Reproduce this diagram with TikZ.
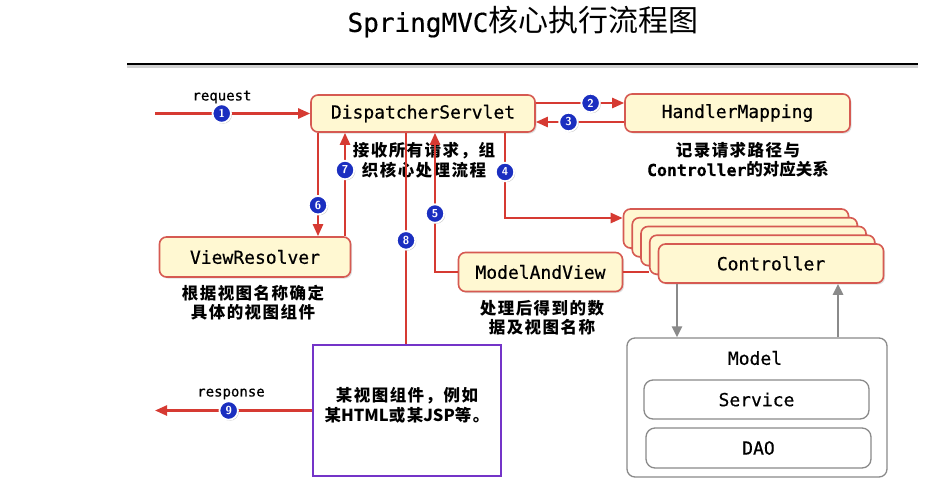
\documentclass[tikz,border=0pt]{standalone}
\usepackage{fontspec}
\newfontfamily\mono{DejaVu Sans Mono}[FakeBold=0.5]
\newfontfamily\monot{DejaVu Sans Mono}
\newfontfamily\cjk{Noto Sans CJK SC}
\newfontfamily\cjks{Noto Sans CJK SC}[LetterSpace=9]
\usetikzlibrary{arrows.meta,shadows,calc}
\definecolor{boxfill}{HTML}{FFF8D2}
\definecolor{boxline}{HTML}{D65A52}
\definecolor{arrred}{HTML}{D63A32}
\definecolor{badgeblue}{HTML}{1B2FC0}
\definecolor{viewpurple}{HTML}{7434C8}
\definecolor{gline}{HTML}{8A8A8A}
\begin{document}
\begin{tikzpicture}[x=1pt,y=-1pt,
  ybox/.style={draw=boxline, line width=1.6pt, fill=boxfill, rounded corners=7pt,
    minimum width=#1, minimum height=39pt, inner sep=0pt,
    font=\mono\fontsize{18}{20}\selectfont,
    drop shadow={shadow xshift=1.5pt, shadow yshift=-1.5pt, opacity=0.25}},
  gbox/.style={draw=gline, line width=1.3pt, rounded corners=9pt, fill=white,
    minimum width=#1, inner sep=0pt, font=\mono\fontsize{18}{20}\selectfont},
  arr/.style={draw=arrred, line width=2.4pt, -{Triangle[length=12pt,width=10pt]}},
  redline/.style={draw=arrred, line width=2.4pt},
  garr/.style={draw=gline, line width=2.6pt, -{Triangle[length=11pt,width=10pt]}},
  badge/.style={circle, fill=badgeblue, draw=white, line width=1.8pt, minimum size=18.5pt,
    inner sep=0pt, text=white, font=\sffamily\bfseries\fontsize{11.5}{11.5}\selectfont,
    drop shadow={shadow xshift=1pt, shadow yshift=-1pt, opacity=0.45}},
  note/.style={align=center, inner sep=0pt, font=\cjks\bfseries\fontsize{16.5}{19.5}\selectfont},
  lbl/.style={inner sep=0pt, font=\mono\fontsize{14}{16}\selectfont}
]
\fill[white] (0,0) rectangle (929,485);
\useasboundingbox (0,0) rectangle (929,485);

% title
\node (title) at (523,22) {\mono\fontsize{26}{30}\selectfont SpringMVC\cjk\fontsize{30}{30}\selectfont 核心执行流程图};
\draw[black!18, line width=3pt] (127,66.5) -- (918,66.5);
\draw[black, line width=2pt] (127,64) -- (918,64);

% main boxes
\node[ybox=224pt, minimum height=37pt] (ds) at (423,113.5) {DispatcherServlet};
\node[ybox=225pt, minimum height=38pt] (hm) at (737.5,113) {HandlerMapping};
\node[ybox=191pt, minimum height=40pt] (vr) at (255,257) {ViewResolver};
\node[ybox=164pt] (mav) at (540.5,272) {ModelAndView};

% controller stack
\node[ybox=225pt] (c1) at (736,228.5) {};
\node[ybox=225pt] (c2) at (744.75,237.25) {};
\node[ybox=225pt] (c3) at (753.5,246) {};
\node[ybox=225pt] (c4) at (762.25,254.75) {};
\node[ybox=225pt] (c5) at (771,263.5) {Controller};

% view box
\node[draw=viewpurple, line width=2.5pt, fill=white, minimum width=188pt,
      minimum height=131pt, inner sep=0pt] (view) at (407,410.5) {};
\node[note] (viewtxt) at (407,405.5)
  {某视图组件，例如\\某{\cjk\bfseries HTML}或某{\cjk\bfseries JSP}等。};

% model
\node[gbox=260pt, minimum height=139pt, rounded corners=8pt] (model) at (757,407.5) {};
\node[inner sep=0pt, font=\mono\fontsize{18}{20}\selectfont] (modeltxt) at (755,358) {Model};
\node[gbox=225pt, minimum height=39pt] (svc) at (756.5,399.5) {Service};
\node[gbox=225pt, minimum height=40pt] (dao) at (758.5,448) {DAO};

% notes
\node[note] (dsnote) at (424,160) {接收所有请求，组\\织核心处理流程};
\node[note] (hmnote) at (738,160) {记录请求路径与\\{\mono\fontsize{16.5}{19.5}\selectfont Controller}{\cjk\bfseries 的对应关系}};
\node[note] (vrnote) at (253,302.5) {根据视图名称确定\\具体的视图组件};
\node[note] (mavnote) at (542,317.5) {处理后得到的数\\据及视图名称};

% helper coordinates
\coordinate (reqstart) at (155,113.5);
\coordinate (respend) at (155,410.5);
\coordinate (y2) at (0,103);
\coordinate (y3) at (0,122);
\coordinate (x4) at (505,0);
\coordinate (y4) at (0,218);
\coordinate (x5) at (435,0);
\coordinate (x6) at (318,0);
\coordinate (x7) at (345,0);
\coordinate (x8) at (406,0);
\coordinate (xg1) at (677,0);
\coordinate (xg2) at (838,0);

% connectors
\draw[arr] (reqstart) -- node[badge, pos=0.43] {1} (ds.west);
\node[lbl] (reqlbl) at (222,97) {request};
\draw[arr] (ds.east |- y2) -- node[badge, pos=0.62] {2} (hm.west |- y2);
\draw[arr] (hm.west |- y3) -- node[badge, pos=0.63] {3} (ds.east |- y3);
\draw[arr] (ds.south -| x4) |- node[badge, pos=0.23] {4} (c1.west |- y4);
\draw[redline] (mav.east) -- (c4.west |- mav.east);
\draw[arr] (mav.west) -| node[badge, pos=0.71] {5} (ds.south -| x5);
\draw[arr] (ds.south -| x6) -- node[badge, pos=0.70] {6} (vr.north -| x6);
\draw[arr] (vr.north -| x7) -- node[badge, pos=0.64] {7} (ds.south -| x7);
\draw[redline] (ds.south -| x8) -- node[badge, pos=0.51] {8} (view.north -| x8);
\draw[arr] (view.west) -- node[badge, pos=0.53] {9} (respend);
\node[lbl] (resplbl) at (231,394) {response};

\draw[garr] (c5.south -| xg1) -- (model.north -| xg1);
\draw[garr] (model.north -| xg2) -- (c5.south -| xg2);
\end{tikzpicture}
\end{document}
